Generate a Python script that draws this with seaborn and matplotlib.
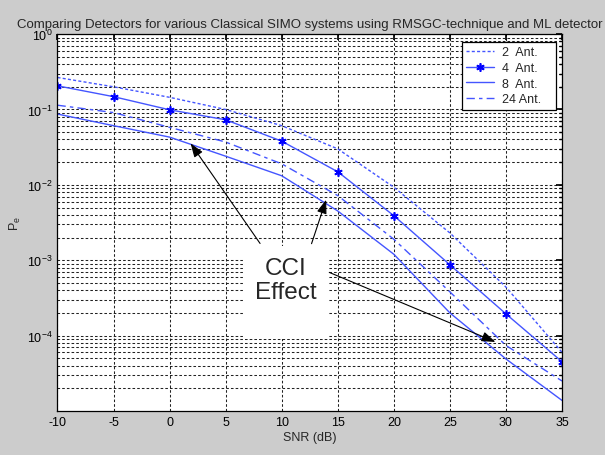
import matplotlib
matplotlib.use("Agg")
import matplotlib.pyplot as plt
import seaborn as sns
import pandas as pd
from matplotlib.patches import Rectangle
from matplotlib.ticker import LogLocator, NullFormatter

# ---- data ----
snr = [-10, -5, 0, 5, 10, 15, 20, 25, 30, 35]
pe_2 = [0.266, 0.20, 0.145, 0.10, 0.061, 0.030, 0.0093, 0.0023, 4.4e-4, 6.0e-5]
pe_4 = [0.206, 0.148, 0.099, 0.073, 0.038, 0.0149, 0.0039, 8.7e-4, 1.94e-4, 4.5e-5]
pe_8 = [0.087, 0.061, 0.043, 0.024, 0.0132, 0.0045, 0.0012, 2.0e-4, 4.9e-5, 1.38e-5]
pe_24 = [0.114, 0.091, 0.058, 0.037, 0.019, 0.0072, 0.0019, 3.8e-4, 7.4e-5, 2.5e-5]
labels = ["2  Ant.", "4  Ant.", "8  Ant.", "24 Ant."]
x_ticks = [-10, -5, 0, 5, 10, 15, 20, 25, 30, 35]
title = "Comparing Detectors for various Classical SIMO systems using RMSGC-technique and ML detector"
xlabel = "SNR (dB)"
note = "CCI\nEffect"

sns.set_theme(style="white")
plt.rcParams["font.family"] = ["Liberation Sans", "DejaVu Sans"]
plt.rcParams["mathtext.fontset"] = "custom"
plt.rcParams["mathtext.rm"] = "Liberation Sans"
plt.rcParams["mathtext.default"] = "regular"

fig = plt.figure(figsize=(6.05, 4.56), dpi=100, facecolor="#cccccc")
ax = fig.add_axes([0.095, 0.0965, 0.834, 0.8265])
ax.set_facecolor("white")

blue = "#4455ff"
series = [pe_2, pe_4, pe_8, pe_24]
styles = [dict(linestyle=(0, (2.2, 1.6)), marker=None),
          dict(linestyle="-", marker=(6, 2, 0), markersize=6, markeredgewidth=1.2,
               markeredgecolor="#0000ff", markerfacecolor="#0000ff"),
          dict(linestyle="-", marker=None),
          dict(linestyle=(0, (6, 3, 2.5, 3)), marker=None)]
for vals, lab, st in zip(series, labels, styles):
    df = pd.DataFrame({"snr": snr, "pe": vals})
    sns.lineplot(data=df, x="snr", y="pe", ax=ax, color=blue, linewidth=1.0,
                 label=lab, **st)

ax.set_yscale("log")
ax.set_xlim(-10, 35)
ax.set_ylim(1e-5, 1)
ax.set_xticks(x_ticks)
ax.set_xticklabels([str(t) for t in x_ticks])
ax.set_yticks([1e-4, 1e-3, 1e-2, 1e-1, 1])
ax.yaxis.set_minor_locator(LogLocator(base=10, subs=range(2, 10), numticks=20))
ax.yaxis.set_minor_formatter(NullFormatter())
ax.tick_params(which="both", direction="in", top=True, right=True, labelsize=9,
               colors="black", length=4)
ax.tick_params(which="minor", length=2)

gkw = dict(color="#222222", linestyle=(0, (2.5, 2.0)), linewidth=0.75)
ax.grid(True, which="major", axis="both", **gkw)
ax.grid(True, which="minor", axis="y", **gkw)
for s in ax.spines.values():
    s.set_color("black")
    s.set_linewidth(0.9)

ax.set_title(title, fontsize=9.55, pad=5)
ax.set_xlabel(xlabel, fontsize=9, labelpad=2)
ax.set_ylabel(r"P$_{e}$", fontsize=9, labelpad=3)

leg = ax.legend(loc="upper left", bbox_to_anchor=(0.8012, 0.7939, 0.1863, 0.1857),
                mode="expand", borderaxespad=0,
                fancybox=False, edgecolor="black", framealpha=1, fontsize=9,
                handlelength=2.2, labelspacing=0.3, borderpad=0.35, handletextpad=0.7)
leg.get_frame().set_linewidth(0.9)

# CCI annotation box
ax.add_patch(Rectangle((0.3717, 0.191), 0.1643, 0.2467, transform=ax.transAxes,
                       facecolor="white", edgecolor="none", zorder=3))
ax.text(0.452, 0.348, note, transform=ax.transAxes, ha="center", va="center",
        fontsize=17.5, linespacing=1.1, zorder=4)
akw = dict(arrowstyle="-|>,head_length=0.7,head_width=0.25", color="black", lw=0.8)
for tip, start in [((1.73, 0.0381), (8.21, 0.001557)),
                   ((14.04, 0.00689), (12.58, 0.00153)),
                   ((29.29, 7.98e-5), (14.01, 0.000713))]:
    ax.annotate("", xy=tip, xytext=start, arrowprops=akw, zorder=5)

fig.savefig("out.png", dpi=100, facecolor=fig.get_facecolor())
